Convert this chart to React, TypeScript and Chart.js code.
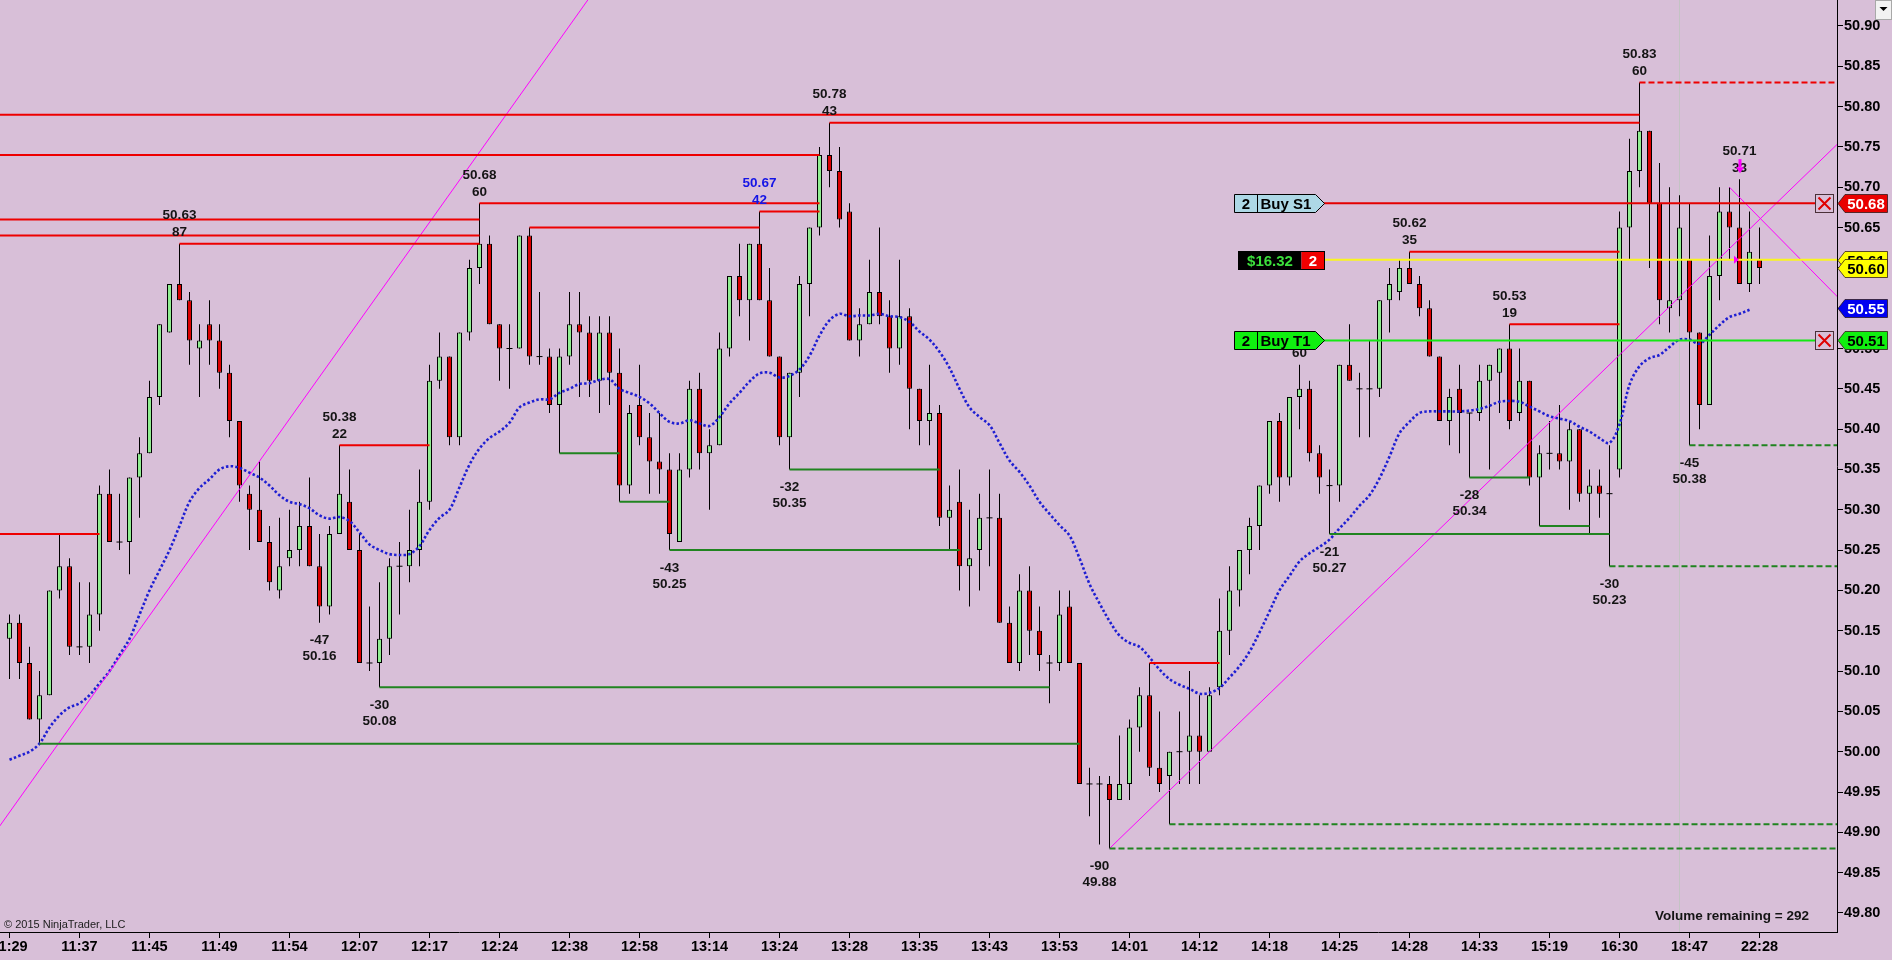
import React, { useEffect, useRef } from "react";
import { Chart, registerables } from "chart.js";

Chart.register(...registerables);

const W = 1892;
const H = 960;
const BG = "#D8BFD8";
const FONT = '"Liberation Sans", Arial, Helvetica, sans-serif';

// ---------------- data ----------------
const OPENS = [
  50.14, 50.16, 50.11, 50.04, 50.07, 50.20, 50.23, 50.13, 50.13, 50.17,
  50.32, 50.26, 50.26, 50.34, 50.37, 50.44, 50.52, 50.58, 50.56, 50.50,
  50.53, 50.51, 50.47, 50.41, 50.32, 50.30, 50.26, 50.20, 50.24, 50.25,
  50.28, 50.23, 50.18, 50.27, 50.31, 50.25, 50.11, 50.11, 50.14, 50.23,
  50.23, 50.25, 50.31, 50.46, 50.49, 50.39, 50.52, 50.60, 50.63, 50.53,
  50.50, 50.50, 50.64, 50.49, 50.49, 50.43, 50.49, 50.53, 50.52, 50.46,
  50.52, 50.47, 50.33, 50.43, 50.39, 50.36, 50.35, 50.26, 50.35, 50.45,
  50.37, 50.38, 50.50, 50.59, 50.56, 50.63, 50.56, 50.49, 50.39, 50.47,
  50.58, 50.65, 50.74, 50.72, 50.67, 50.51, 50.53, 50.57, 50.54, 50.50,
  50.54, 50.45, 50.41, 50.42, 50.29, 50.31, 50.23, 50.25, 50.29, 50.29,
  50.16, 50.11, 50.20, 50.15, 50.11, 50.11, 50.18, 50.11, 49.96, 49.96,
  49.96, 49.94, 49.96, 50.03, 50.07, 49.98, 49.97, 50.00, 50.00, 50.02,
  50.00, 50.08, 50.15, 50.20, 50.25, 50.28, 50.33, 50.41, 50.34, 50.44,
  50.45, 50.37, 50.33, 50.33, 50.48, 50.45, 50.45, 50.45, 50.56, 50.57,
  50.60, 50.58, 50.55, 50.49, 50.41, 50.45, 50.42, 50.42, 50.46, 50.47,
  50.50, 50.42, 50.46, 50.34, 50.37, 50.37, 50.36, 50.40, 50.32, 50.33,
  50.32, 50.35, 50.65, 50.72, 50.77, 50.68, 50.55, 50.56, 50.61, 50.52,
  50.43, 50.59, 50.67, 50.65, 50.58, 50.61,
];
const HIGHS = [
  50.17, 50.17, 50.13, 50.10, 50.20, 50.27, 50.24, 50.21, 50.21, 50.33,
  50.35, 50.32, 50.34, 50.39, 50.46, 50.53, 50.58, 50.63, 50.57, 50.53,
  50.56, 50.53, 50.48, 50.41, 50.33, 50.36, 50.28, 50.29, 50.30, 50.31,
  50.34, 50.27, 50.28, 50.38, 50.35, 50.27, 50.18, 50.21, 50.24, 50.26,
  50.30, 50.35, 50.48, 50.52, 50.49, 50.52, 50.61, 50.68, 50.64, 50.53,
  50.53, 50.64, 50.65, 50.57, 50.50, 50.50, 50.57, 50.57, 50.54, 50.54,
  50.54, 50.50, 50.43, 50.48, 50.42, 50.42, 50.37, 50.37, 50.46, 50.47,
  50.40, 50.52, 50.59, 50.63, 50.63, 50.67, 50.60, 50.49, 50.47, 50.59,
  50.65, 50.75, 50.78, 50.75, 50.68, 50.55, 50.61, 50.65, 50.56, 50.61,
  50.55, 50.45, 50.48, 50.43, 50.33, 50.35, 50.30, 50.32, 50.35, 50.32,
  50.18, 50.22, 50.23, 50.18, 50.12, 50.20, 50.20, 50.11, 49.98, 49.97,
  49.97, 50.02, 50.04, 50.08, 50.11, 50.05, 50.00, 50.05, 50.10, 50.07,
  50.08, 50.19, 50.23, 50.25, 50.29, 50.33, 50.41, 50.42, 50.44, 50.48,
  50.46, 50.38, 50.35, 50.48, 50.53, 50.47, 50.51, 50.56, 50.60, 50.61,
  50.62, 50.59, 50.56, 50.49, 50.45, 50.48, 50.42, 50.48, 50.48, 50.50,
  50.53, 50.50, 50.46, 50.38, 50.41, 50.43, 50.41, 50.40, 50.35, 50.35,
  50.38, 50.67, 50.76, 50.83, 50.77, 50.73, 50.70, 50.69, 50.68, 50.52,
  50.64, 50.70, 50.70, 50.71, 50.67, 50.65,
];
const LOWS = [
  50.09, 50.09, 50.04, 50.01, 50.07, 50.19, 50.12, 50.12, 50.11, 50.15,
  50.26, 50.25, 50.22, 50.29, 50.37, 50.43, 50.52, 50.56, 50.48, 50.44,
  50.48, 50.45, 50.39, 50.31, 50.25, 50.26, 50.20, 50.19, 50.23, 50.23,
  50.23, 50.16, 50.17, 50.27, 50.25, 50.11, 50.10, 50.08, 50.12, 50.17,
  50.21, 50.23, 50.30, 50.45, 50.38, 50.38, 50.51, 50.58, 50.53, 50.46,
  50.45, 50.50, 50.48, 50.48, 50.42, 50.37, 50.48, 50.44, 50.44, 50.42,
  50.43, 50.31, 50.32, 50.38, 50.32, 50.32, 50.25, 50.26, 50.34, 50.35,
  50.30, 50.38, 50.49, 50.54, 50.51, 50.56, 50.49, 50.38, 50.35, 50.44,
  50.54, 50.64, 50.70, 50.65, 50.51, 50.49, 50.53, 50.53, 50.47, 50.48,
  50.40, 50.38, 50.38, 50.28, 50.25, 50.20, 50.18, 50.20, 50.23, 50.16,
  50.11, 50.10, 50.12, 50.10, 50.06, 50.10, 50.11, 49.96, 49.92, 49.885,
  49.88, 49.94, 49.94, 50.00, 49.97, 49.95, 49.91, 49.96, 49.96, 49.96,
  50.00, 50.07, 50.12, 50.18, 50.22, 50.25, 50.32, 50.31, 50.33, 50.40,
  50.36, 50.32, 50.27, 50.31, 50.46, 50.39, 50.39, 50.44, 50.52, 50.56,
  50.58, 50.54, 50.49, 50.41, 50.38, 50.37, 50.34, 50.41, 50.35, 50.42,
  50.40, 50.41, 50.33, 50.28, 50.35, 50.35, 50.30, 50.31, 50.27, 50.29,
  50.23, 50.34, 50.61, 50.70, 50.60, 50.53, 50.52, 50.54, 50.38, 50.40,
  50.43, 50.56, 50.61, 50.58, 50.57, 50.58,
];
const CLOSES = [
  50.16, 50.11, 50.04, 50.07, 50.20, 50.23, 50.13, 50.13, 50.17, 50.32,
  50.26, 50.26, 50.34, 50.37, 50.44, 50.53, 50.58, 50.56, 50.51, 50.51,
  50.51, 50.47, 50.41, 50.33, 50.30, 50.26, 50.21, 50.23, 50.25, 50.28,
  50.23, 50.18, 50.27, 50.32, 50.25, 50.11, 50.11, 50.14, 50.23, 50.23,
  50.25, 50.31, 50.46, 50.49, 50.39, 50.52, 50.60, 50.63, 50.53, 50.50,
  50.50, 50.64, 50.49, 50.49, 50.43, 50.49, 50.53, 50.52, 50.46, 50.52,
  50.47, 50.33, 50.42, 50.39, 50.36, 50.35, 50.27, 50.35, 50.45, 50.37,
  50.38, 50.50, 50.59, 50.56, 50.63, 50.56, 50.49, 50.39, 50.47, 50.58,
  50.65, 50.74, 50.72, 50.66, 50.51, 50.53, 50.57, 50.54, 50.50, 50.54,
  50.45, 50.41, 50.42, 50.29, 50.30, 50.23, 50.24, 50.29, 50.29, 50.16,
  50.11, 50.20, 50.15, 50.12, 50.11, 50.17, 50.11, 49.96, 49.96, 49.96,
  49.94, 49.96, 50.03, 50.07, 49.98, 49.96, 50.00, 50.00, 50.02, 50.00,
  50.07, 50.15, 50.20, 50.25, 50.28, 50.33, 50.41, 50.34, 50.44, 50.45,
  50.37, 50.34, 50.33, 50.48, 50.46, 50.45, 50.45, 50.56, 50.58, 50.60,
  50.58, 50.55, 50.49, 50.41, 50.44, 50.42, 50.42, 50.46, 50.48, 50.50,
  50.41, 50.46, 50.34, 50.37, 50.37, 50.36, 50.40, 50.32, 50.33, 50.32,
  50.32, 50.65, 50.72, 50.77, 50.68, 50.56, 50.56, 50.65, 50.52, 50.43,
  50.59, 50.67, 50.65, 50.58, 50.62, 50.60,
];
// blue dotted moving-average line, read per bar
const MA = [
  49.99, 49.995, 50.0, 50.01, 50.03, 50.045, 50.055, 50.06, 50.07, 50.085,
  50.1, 50.12, 50.14, 50.17, 50.2, 50.225, 50.25, 50.28, 50.31, 50.327,
  50.338, 50.35, 50.354, 50.352, 50.346, 50.34, 50.33, 50.318, 50.31, 50.307,
  50.302, 50.293, 50.289, 50.291, 50.286, 50.272, 50.257, 50.25, 50.245, 50.244,
  50.245, 50.255, 50.275, 50.29, 50.3, 50.328, 50.356, 50.376, 50.389, 50.397,
  50.408, 50.427, 50.433, 50.437, 50.437, 50.445, 50.45, 50.456, 50.457, 50.461,
  50.462, 50.45, 50.445, 50.44, 50.432, 50.42, 50.409, 50.407, 50.411, 50.407,
  50.404, 50.415, 50.432, 50.445, 50.459, 50.469, 50.47, 50.464, 50.466, 50.474,
  50.491, 50.516, 50.535, 50.543, 50.54, 50.541, 50.541, 50.543, 50.54, 50.539,
  50.533, 50.521, 50.511, 50.496, 50.476, 50.45, 50.427, 50.415, 50.405, 50.383,
  50.361, 50.347, 50.33, 50.31, 50.295, 50.281, 50.268, 50.24, 50.208, 50.184,
  50.162, 50.144, 50.135, 50.13, 50.117, 50.102, 50.09, 50.083, 50.078, 50.072,
  50.073, 50.079, 50.092, 50.106, 50.124, 50.148, 50.174, 50.2, 50.218, 50.236,
  50.246, 50.254, 50.263, 50.277, 50.29, 50.305, 50.318, 50.339, 50.366, 50.395,
  50.409, 50.42, 50.422, 50.422, 50.422, 50.422, 50.423, 50.425, 50.429, 50.434,
  50.435, 50.434, 50.428, 50.422, 50.416, 50.413, 50.41, 50.403, 50.397, 50.389,
  50.383, 50.406, 50.455, 50.478, 50.488, 50.492, 50.502, 50.511, 50.511, 50.506,
  50.517, 50.529, 50.539, 50.543, 50.548, null,
];

const TIME_LABELS = [
  "11:29", "11:37", "11:45", "11:49", "11:54", "12:07", "12:17", "12:24", "12:38",
  "12:58", "13:14", "13:24", "13:28", "13:35", "13:43", "13:53", "14:01", "14:12",
  "14:18", "14:25", "14:28", "14:33", "15:19", "16:30", "18:47", "22:28",
];
const TICK_BARS = [
  0, 7, 14, 21, 28, 35, 42, 49, 56, 63, 70, 77, 84, 91, 98, 105, 112, 119, 126,
  133, 140, 147, 154, 161, 168, 175,
];
const Y_TICKS = [
  49.8, 49.85, 49.9, 49.95, 50.0, 50.05, 50.1, 50.15, 50.2, 50.25, 50.3, 50.35,
  50.4, 50.45, 50.5, 50.55, 50.6, 50.65, 50.7, 50.75, 50.8, 50.85, 50.9,
];
const X_MIN = -0.95;
const X_MAX = 182.75;
const Y_MIN = 49.7764;
const Y_MAX = 50.9322;

// [price, fromBar, toBar]
const RED_LEVELS = [
  [50.79, -2, 163], [50.74, -2, 81], [50.78, 82, 163], [50.66, -2, 47],
  [50.64, -2, 47], [50.63, 17, 47], [50.68, 47, 81], [50.65, 52, 75],
  [50.67, 75, 81], [50.38, 33, 42], [50.27, -2, 9], [50.11, 114, 121],
  [50.62, 140, 161], [50.53, 150, 161],
];
const RED_ACTIVE = [[50.83, 163, 184]];
const GREEN_LEVELS = [
  [50.01, 3, 107], [50.08, 37, 104], [50.37, 55, 61], [50.31, 61, 66],
  [50.25, 66, 95], [50.35, 78, 93], [50.27, 132, 160], [50.34, 146, 152],
  [50.28, 153, 158],
];
const GREEN_ACTIVE = [[49.91, 116, 184], [49.88, 110, 184], [50.23, 160, 184], [50.38, 168, 184]];
// [x1, y1, x2, y2]
const TREND_LINES = [
  [-2, 49.89, 60, 50.97],
  [110, 49.88, 184, 50.768],
  [172, 50.70, 184, 50.549],
];
// [bar, price, count]
const SWING_HIGHS = [
  [17, 50.63, "87"], [33, 50.38, "22"], [47, 50.68, "60"], [75, 50.67, "42"],
  [82, 50.78, "43"], [129, 50.48, "60"], [140, 50.62, "35"], [150, 50.53, "19"],
  [163, 50.83, "60"], [173, 50.71, "33"],
];
const SWING_LOWS = [
  [31, 50.16, "-47"], [37, 50.08, "-30"], [66, 50.25, "-43"], [78, 50.35, "-32"],
  [109, 49.88, "-90"], [132, 50.27, "-21"], [146, 50.34, "-28"], [160, 50.23, "-30"],
  [168, 50.38, "-45"],
];
const BLUE_SWING_BAR = 75;

const ORDER_TIP_BAR = 131.45;
const ORDER_END_BAR = 180.65;
// [price, toBar, color]
const ORDER_LINES = [
  [50.68, ORDER_END_BAR, "rgb(228,0,0)"],
  [50.61, 184, "rgb(250,246,30)"],
  [50.51, ORDER_END_BAR, "rgb(20,232,20)"],
];
const ORDER_BOXES = [
  { price: 50.68, qty: "2", text: "Buy S1", bg: "#ADD8E6" },
  { price: 50.51, qty: "2", text: "Buy T1", bg: "#10F010" },
];
const PNL_BOX = { price: 50.61, text: "$16.32", qty: "2" };
const X_MARKS = [50.68, 50.51];
// [price, bg, fg]
const PRICE_TAGS = [
  [50.68, "#E80000", "#FFFFFF"],
  [50.61, "#FFFF00", "#000000"],
  [50.60, "#FFFF00", "#000000"],
  [50.55, "#0000F0", "#FFFFFF"],
  [50.51, "#10F010", "#000000"],
];
const SESSION_BREAK_BAR = 167;
const ARROW_BAR = 173;
const VOLUME_TEXT = "Volume remaining = 292";
const COPYRIGHT = "\u00A9 2015 NinjaTrader, LLC";

const UP = "rgb(144,238,144)";
const DOWN = "rgb(220,0,0)";

// ---------------- helpers ----------------
function levelDataset(lv: any, color: string, dash: number[]) {
  return {
    type: "line",
    data: [{ x: lv[1], y: lv[0] }, { x: lv[2], y: lv[0] }],
    borderColor: color,
    borderWidth: 2,
    borderDash: dash,
    pointRadius: 0,
    order: 1,
  };
}

function drawOrderBox(ctx: any, tipX: number, yc: number, qty: string, text: string, bg: string) {
  const h = 18, w = 90, tip = 9, qw = 23;
  const left = Math.round(tipX - w) + 0.5;
  const right = Math.round(tipX) + 0.5;
  const top = Math.round(yc - h / 2) + 0.5;
  ctx.beginPath();
  ctx.moveTo(left, top);
  ctx.lineTo(right - tip, top);
  ctx.lineTo(right, top + h / 2);
  ctx.lineTo(right - tip, top + h);
  ctx.lineTo(left, top + h);
  ctx.closePath();
  ctx.fillStyle = bg;
  ctx.fill();
  ctx.strokeStyle = "#000";
  ctx.lineWidth = 1;
  ctx.stroke();
  ctx.beginPath();
  ctx.moveTo(left + qw, top);
  ctx.lineTo(left + qw, top + h);
  ctx.stroke();
  ctx.fillStyle = "#000";
  ctx.font = `bold 15px ${FONT}`;
  ctx.textBaseline = "middle";
  ctx.textAlign = "center";
  ctx.fillText(qty, left + qw / 2, top + h / 2 + 1);
  ctx.textAlign = "left";
  ctx.fillText(text, left + qw + 3, top + h / 2 + 1);
}

const annotationPlugin = {
  id: "ntAnnotations",
  beforeDatasetsDraw(chart: any) {
    const { ctx, chartArea, scales } = chart;
    const px = Math.floor(scales.x.getPixelForValue(SESSION_BREAK_BAR)) + 0.5;
    ctx.save();
    ctx.strokeStyle = "rgba(195,195,195,0.95)";
    ctx.lineWidth = 1;
    ctx.beginPath();
    ctx.moveTo(px, chartArea.top);
    ctx.lineTo(px, chartArea.bottom);
    ctx.stroke();
    ctx.restore();
  },
  afterDatasetsDraw(chart: any) {
    const { ctx, chartArea, scales } = chart;
    const xs = scales.x;
    const ys = scales.y;
    ctx.save();

    // swing labels
    ctx.font = `bold 13.5px ${FONT}`;
    ctx.textAlign = "center";
    ctx.textBaseline = "middle";
    SWING_HIGHS.forEach((s: any) => {
      const px = xs.getPixelForValue(s[0]);
      const py = ys.getPixelForValue(s[1]);
      ctx.fillStyle = s[0] === BLUE_SWING_BAR ? "#1414E6" : "#141414";
      ctx.fillText(s[1].toFixed(2), px, py - 28);
      ctx.fillText(s[2], px, py - 11);
    });
    SWING_LOWS.forEach((s: any) => {
      const px = xs.getPixelForValue(s[0]);
      const py = ys.getPixelForValue(s[1]);
      ctx.fillStyle = "#141414";
      ctx.fillText(s[2], px, py + 18);
      ctx.fillText(s[1].toFixed(2), px, py + 34);
    });

    // magenta arrow marker
    {
      const px = Math.round(xs.getPixelForValue(ARROW_BAR));
      const py = ys.getPixelForValue(HIGHS[ARROW_BAR]);
      ctx.fillStyle = "#FF00FF";
      ctx.fillRect(px - 1.5, py - 20, 3, 8);
      ctx.beginPath();
      ctx.moveTo(px - 4, py - 12);
      ctx.lineTo(px + 4, py - 12);
      ctx.lineTo(px, py - 6);
      ctx.closePath();
      ctx.fill();
      const py2 = ys.getPixelForValue(PNL_BOX.price);
      ctx.beginPath();
      ctx.moveTo(px - 6, py2 - 4);
      ctx.lineTo(px - 1, py2);
      ctx.lineTo(px - 6, py2 + 4);
      ctx.closePath();
      ctx.fill();
    }

    // order boxes
    const tipX = xs.getPixelForValue(ORDER_TIP_BAR);
    ORDER_BOXES.forEach((b) => {
      drawOrderBox(ctx, tipX, ys.getPixelForValue(b.price), b.qty, b.text, b.bg);
    });
    {
      const h = 18;
      const yc = ys.getPixelForValue(PNL_BOX.price);
      const top = Math.round(yc - h / 2) + 0.5;
      const right = Math.round(tipX) + 0.5;
      const mid = right - 23;
      const left = right - 86;
      ctx.fillStyle = "#000";
      ctx.fillRect(left, top, mid - left, h);
      ctx.fillStyle = "#F00000";
      ctx.fillRect(mid, top, right - mid, h);
      ctx.strokeStyle = "#000";
      ctx.lineWidth = 1;
      ctx.strokeRect(left, top, right - left, h);
      ctx.font = `bold 15px ${FONT}`;
      ctx.textAlign = "center";
      ctx.textBaseline = "middle";
      ctx.fillStyle = "#3CE03C";
      ctx.fillText(PNL_BOX.text, (left + mid) / 2, top + h / 2 + 1);
      ctx.fillStyle = "#FFFFFF";
      ctx.fillText(PNL_BOX.qty, (mid + right) / 2, top + h / 2 + 1);
    }

    // X close marks
    X_MARKS.forEach((p) => {
      const yc = ys.getPixelForValue(p);
      const r = Math.round(chartArea.right) - 3.5;
      const l = r - 18;
      const t = Math.round(yc - 9) + 0.5;
      const b = t + 18;
      ctx.strokeStyle = "#4A3038";
      ctx.lineWidth = 1;
      ctx.strokeRect(l, t, 18, 18);
      ctx.strokeStyle = "#E00000";
      ctx.lineWidth = 2;
      ctx.beginPath();
      ctx.moveTo(l + 3, t + 3);
      ctx.lineTo(r - 3, b - 3);
      ctx.moveTo(r - 3, t + 3);
      ctx.lineTo(l + 3, b - 3);
      ctx.stroke();
    });

    // price tags on the axis
    const ax = chartArea.right;
    PRICE_TAGS.forEach((t: any) => {
      const yc = ys.getPixelForValue(t[0]);
      const top = Math.round(yc - 9) + 0.5;
      const bot = top + 18;
      const rx = chart.width - 4.5;
      ctx.beginPath();
      ctx.moveTo(ax + 1, top + 9);
      ctx.lineTo(ax + 8, top);
      ctx.lineTo(rx, top);
      ctx.lineTo(rx, bot);
      ctx.lineTo(ax + 8, bot);
      ctx.closePath();
      ctx.fillStyle = t[1];
      ctx.fill();
      ctx.strokeStyle = "rgba(40,20,20,0.75)";
      ctx.lineWidth = 1;
      ctx.stroke();
      ctx.font = `bold 15px ${FONT}`;
      ctx.textAlign = "center";
      ctx.textBaseline = "middle";
      ctx.fillStyle = t[2];
      ctx.fillText(t[0].toFixed(2), ax + 29, top + 10);
    });

    // texts
    ctx.fillStyle = "#141414";
    ctx.font = `bold 13.5px ${FONT}`;
    ctx.textAlign = "right";
    ctx.textBaseline = "middle";
    ctx.fillText(VOLUME_TEXT, chartArea.right - 28, chartArea.bottom - 16);
    ctx.font = `11px "Liberation Sans Narrow", "Arial Narrow", ${FONT}`;
    ctx.textAlign = "left";
    ctx.fillStyle = "#202020";
    ctx.fillText(COPYRIGHT, 4, chartArea.bottom - 7);

    // dropdown button
    const bx = chart.width - 16.5;
    ctx.fillStyle = "#F2F2F2";
    ctx.fillRect(bx, 0, 16, 20);
    ctx.strokeStyle = "#A8A8A8";
    ctx.lineWidth = 1;
    ctx.strokeRect(bx, 0.5, 16, 19);
    ctx.fillStyle = "#000";
    ctx.beginPath();
    ctx.moveTo(bx + 4, 7);
    ctx.lineTo(bx + 12, 7);
    ctx.lineTo(bx + 8, 11);
    ctx.closePath();
    ctx.fill();

    ctx.restore();
  },
};

function buildConfig(): any {
  const idx = OPENS.map((_, i) => i);
  const wicks = idx.map((i) => ({ x: i, y: [LOWS[i], HIGHS[i]] }));
  const bodies = idx
    .filter((i) => OPENS[i] !== CLOSES[i])
    .map((i) => ({ x: i, y: [OPENS[i], CLOSES[i]] }));
  const dojis = idx.filter((i) => OPENS[i] === CLOSES[i]).map((i) => ({ x: i, y: OPENS[i] }));

  const datasets: any[] = [];
  RED_LEVELS.forEach((lv) => datasets.push(levelDataset(lv, "rgb(238,0,0)", [])));
  RED_ACTIVE.forEach((lv) => datasets.push(levelDataset(lv, "rgb(238,0,0)", [6, 3])));
  GREEN_LEVELS.forEach((lv) => datasets.push(levelDataset(lv, "rgb(32,132,32)", [])));
  GREEN_ACTIVE.forEach((lv) => datasets.push(levelDataset(lv, "rgb(32,132,32)", [6, 3])));
  ORDER_LINES.forEach((o: any) =>
    datasets.push(levelDataset([o[0], ORDER_TIP_BAR, o[1]], o[2], []))
  );
  TREND_LINES.forEach((t) =>
    datasets.push({
      type: "line",
      data: [{ x: t[0], y: t[1] }, { x: t[2], y: t[3] }],
      borderColor: "#FF00FF",
      borderWidth: 1,
      pointRadius: 0,
      order: 1,
    })
  );
  datasets.push({
    type: "line",
    data: MA.map((v, i) => ({ x: i, y: v })),
    borderColor: "rgb(30,30,210)",
    borderWidth: 2.6,
    borderDash: [2.5, 2.2],
    pointRadius: 0,
    tension: 0.35,
    spanGaps: false,
    order: 2,
  });
  datasets.push({
    type: "line",
    data: dojis,
    showLine: false,
    pointStyle: "line",
    pointRadius: 3,
    pointBorderColor: "#000",
    pointBorderWidth: 1,
    order: 5,
  });
  datasets.push({
    type: "bar",
    data: bodies,
    backgroundColor: (c: any) => (c.raw && CLOSES[c.raw.x] > OPENS[c.raw.x] ? UP : DOWN),
    borderColor: "#000",
    borderWidth: 1,
    borderSkipped: false,
    barThickness: 5,
    grouped: false,
    inflateAmount: 0,
    order: 5,
  });
  datasets.push({
    type: "bar",
    data: wicks,
    backgroundColor: "#000",
    borderWidth: 0,
    barThickness: 1,
    grouped: false,
    inflateAmount: 0,
    order: 6,
  });

  const tickFont = { family: FONT, size: 14.5, weight: "bold" };
  return {
    type: "bar",
    data: { datasets },
    options: {
      animation: false,
      responsive: false,
      maintainAspectRatio: false,
      devicePixelRatio: 1,
      layout: { padding: 0, autoPadding: false },
      events: [],
      plugins: { legend: { display: false }, tooltip: { enabled: false } },
      scales: {
        x: {
          type: "linear",
          position: "bottom",
          min: X_MIN,
          max: X_MAX,
          offset: false,
          grid: {
            display: true,
            offset: false,
            drawOnChartArea: false,
            drawTicks: true,
            tickLength: 6,
            color: "#000",
          },
          border: { display: true, color: "#000", width: 1 },
          ticks: {
            autoSkip: false,
            maxRotation: 0,
            minRotation: 0,
            padding: 0,
            color: "#000",
            font: tickFont,
            callback: (_v: any, i: number) => TIME_LABELS[i] ?? "",
          },
          afterBuildTicks: (s: any) => {
            s.ticks = TICK_BARS.map((v) => ({ value: v }));
          },
          afterFit: (s: any) => {
            s.height = 28;
            s.paddingLeft = 0;
            s.paddingRight = 0;
          },
        },
        y: {
          type: "linear",
          position: "right",
          min: Y_MIN,
          max: Y_MAX,
          beginAtZero: false,
          grid: {
            display: true,
            drawOnChartArea: false,
            drawTicks: true,
            tickLength: 6,
            color: "#000",
          },
          border: { display: true, color: "#000", width: 1 },
          ticks: {
            padding: 1,
            color: "#000",
            font: tickFont,
            callback: (v: any) => Number(v).toFixed(2),
          },
          afterBuildTicks: (s: any) => {
            s.ticks = Y_TICKS.map((v) => ({ value: v }));
          },
          afterFit: (s: any) => {
            s.width = 55;
            s.paddingTop = 0;
            s.paddingBottom = 0;
          },
        },
      },
    },
    plugins: [annotationPlugin],
  };
}

export default function App() {
  const ref = useRef<HTMLCanvasElement | null>(null);
  useEffect(() => {
    document.body.style.margin = "0";
    document.body.style.background = BG;
    const canvas = ref.current;
    if (!canvas) return;
    const chart = new Chart(canvas, buildConfig());
    return () => chart.destroy();
  }, []);
  return (
    <div style={{ width: W, height: H, background: BG, overflow: "hidden" }}>
      <canvas ref={ref} width={W} height={H} style={{ display: "block", width: W, height: H }} />
    </div>
  );
}
